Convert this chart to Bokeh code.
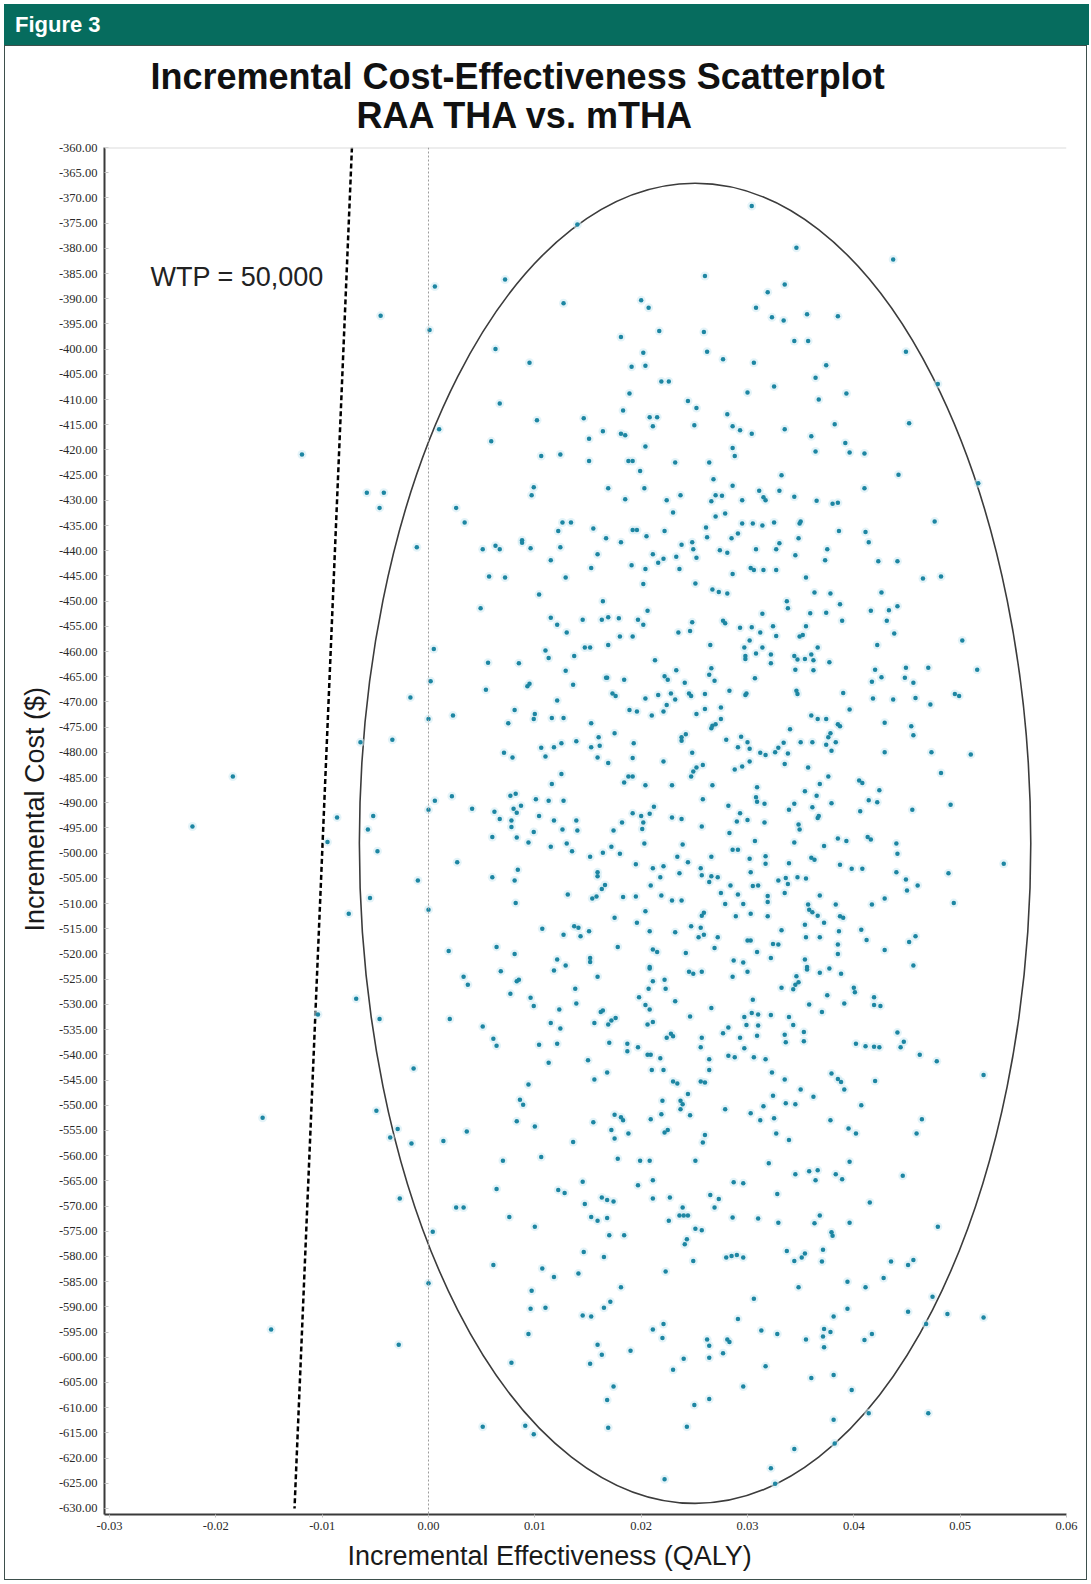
import math
from bokeh.plotting import figure
from bokeh.layouts import column
from bokeh.models import Range1d, FixedTicker, NumeralTickFormatter, Label, Span, Title, Div
from bokeh.embed import file_html
from bokeh.resources import INLINE

# ---------------- data ----------------
x_ticks = [-0.03, -0.02, -0.01, 0.0, 0.01, 0.02, 0.03, 0.04, 0.05, 0.06]
y_ticks = list(range(-630, -355, 5))

wtp = 50000
wtp_cost_ends = [-360, -630]

ellipse_center = (0.02507, -498.05)
ellipse_size = (0.06314, 261.9)

qaly_a = [0.0304, 0.0140, 0.0346, 0.0437, 0.0260, 0.0072, 0.0006, 0.0335, 0.0319, -0.0045,
          0.0127, 0.0200, 0.0207, 0.0308, 0.0323, 0.0334, 0.0356, 0.0385, 0.0001, 0.0217,
          0.0259, 0.0181, 0.0063, 0.0344, 0.0357, 0.0202, 0.0262, 0.0449, 0.0095, 0.0277,
          0.0306, 0.0191, 0.0204, 0.0374]
cost_a = [-371.6, -375.3, -379.9, -382.2, -385.5, -386.2, -387.6, -387.2, -388.7, -393.4,
          -390.9, -390.3, -391.8, -391.8, -393.7, -394.3, -393.1, -393.5, -396.2, -396.4,
          -396.6, -397.6, -400.0, -398.4, -398.4, -400.7, -400.5, -400.5, -402.7, -402.0,
          -402.7, -403.5, -403.3, -403.2]

qaly_b = [0.0219, 0.0226, 0.0364, 0.0479, 0.0325, 0.0300, 0.0189, 0.0393, 0.0367, 0.0067,
          0.0244, 0.0252, 0.0183, 0.0102, 0.0146, 0.0208, 0.0215, 0.0281, 0.0452, 0.0010,
          0.0211, 0.0250, 0.0286, 0.0293, 0.0304, 0.0335, 0.0382, 0.0164, 0.0181, 0.0185,
          0.0151, 0.0360, 0.0059, 0.0204, 0.0286, 0.0392, -0.0119, 0.0106, 0.0124, 0.0288,
          0.0364, 0.0396, 0.0410, 0.0151, 0.0188, 0.0192, 0.0232, 0.0264, 0.0199, 0.0332,
          0.0442, 0.0268, 0.0517, 0.0099, 0.0097, 0.0169, 0.0203, 0.0286, 0.0410, -0.0058,
          -0.0042, 0.0185, 0.0224, 0.0237, 0.0266, 0.0270, 0.0276, 0.0295, 0.0311, 0.0315,
          0.0317, 0.0330, 0.0344, 0.0365, 0.0380, 0.0385, -0.0046, 0.0026, 0.0230, 0.0270,
          0.0279, 0.0034, 0.0126, 0.0134, 0.0295, 0.0305, 0.0314, 0.0325, 0.0350, 0.0476,
          0.0155, 0.0122, 0.0192, 0.0196, 0.0222, 0.0261, 0.0349, 0.0386, 0.0411, 0.0088,
          0.0088, 0.0167, 0.0181, 0.0205, 0.0262, 0.0285, 0.0291, 0.0348, 0.0414, -0.0011,
          0.0051, 0.0063, 0.0067, 0.0096, 0.0124, 0.0238, 0.0248, 0.0249, 0.0274, 0.0281,
          0.0308, 0.0327, 0.0330, 0.0375, 0.0115, 0.0159, 0.0211, 0.0221, 0.0216, 0.0233,
          0.0252, 0.0345, 0.0373, 0.0423, 0.0441, 0.0153, 0.0191, 0.0204, 0.0236, 0.0303,
          0.0306, 0.0315, 0.0327, 0.0057, 0.0072, 0.0129, 0.0286, 0.0355, 0.0465, 0.0482,
          0.0202, 0.0251, 0.0104, 0.0267, 0.0273, 0.0281, 0.0363, 0.0378, 0.0426]
cost_b = [-406.4, -406.4, -405.7, -406.9, -407.4, -408.6, -408.8, -408.8, -410.0, -410.8,
          -410.3, -411.7, -412.2, -414.1, -413.7, -413.5, -413.5, -412.9, -414.7, -415.9,
          -415.3, -415.1, -415.3, -416.1, -416.8, -415.9, -414.9, -416.3, -416.8, -417.1,
          -417.8, -417.3, -418.3, -419.3, -419.6, -418.6, -420.9, -421.2, -420.9, -421.2,
          -420.3, -420.5, -420.7, -422.2, -422.2, -422.2, -422.5, -422.5, -424.2, -425.0,
          -424.9, -425.8, -426.6, -427.4, -429.0, -427.6, -427.6, -427.1, -427.6, -428.5,
          -428.5, -429.8, -430.0, -429.0, -430.2, -429.0, -429.1, -430.0, -428.1, -429.4,
          -430.0, -428.1, -429.3, -430.1, -430.7, -430.5, -431.5, -431.5, -432.4, -433.2,
          -432.6, -434.4, -434.4, -434.4, -434.6, -434.6, -435.0, -434.4, -434.2, -434.2,
          -435.6, -436.1, -435.9, -435.9, -436.1, -435.4, -434.6, -436.1, -436.3, -437.9,
          -438.4, -437.5, -438.3, -437.1, -437.3, -437.5, -436.6, -437.5, -438.3, -439.3,
          -439.7, -439.0, -439.7, -439.5, -439.3, -438.8, -438.3, -439.7, -439.9, -440.4,
          -439.7, -439.7, -438.5, -439.7, -441.9, -440.7, -440.7, -441.6, -442.4, -441.2,
          -441.4, -440.9, -441.9, -442.1, -442.1, -443.4, -442.9, -443.6, -443.6, -443.4,
          -443.8, -443.8, -443.8, -445.1, -445.3, -445.3, -444.6, -445.3, -445.5, -445.1,
          -446.6, -446.5, -448.7, -447.7, -448.2, -448.5, -448.3, -448.5, -448.3]

qaly_c = [0.0164, 0.0337, 0.0387, 0.0049, 0.0338, 0.0416, 0.0433, 0.0441, 0.0359, 0.0374,
          0.0314, 0.0115, 0.0145, 0.0163, 0.0169, 0.0179, 0.0197, 0.0206, 0.0248, 0.0277,
          0.0279, 0.0389, 0.0431, 0.0121, 0.0130, 0.0202, 0.0246, 0.0235, 0.0293, 0.0304,
          0.0324, 0.0355, 0.0312, 0.0327, 0.0349, 0.0352, 0.0438, 0.0180, 0.0192, 0.0005,
          0.0110, 0.0147, 0.0152, 0.0169, 0.0265, 0.0297, 0.0302, 0.0314, 0.0366, 0.0422,
          0.0502, 0.0113, 0.0137, 0.0298, 0.0308, 0.0322, 0.0344, 0.0347, 0.0354, 0.0362,
          0.0360, 0.0056, 0.0085, 0.0213, 0.0298, 0.0322, 0.0377, 0.0129, 0.0167, 0.0168,
          0.0184, 0.0222, 0.0225, 0.0233, 0.0266, 0.0264, 0.0269, 0.0307, 0.0345, 0.0362,
          0.0420, 0.0426, 0.0417, 0.0449, 0.0448, 0.0456, 0.0470, 0.0516, 0.0002, 0.0054,
          0.0093, 0.0095, 0.0136, 0.0241, -0.0017, 0.0121, 0.0173, 0.0176, 0.0204, 0.0216,
          0.0228, 0.0232, 0.0245, 0.0247, 0.0260, 0.0283, 0.0298, 0.0299, 0.0346, 0.0347,
          0.0390, 0.0418, 0.0437, 0.0458, 0.0472, 0.0495, 0.0499, 0.0081, 0.0224, 0.0189,
          0.0196, 0.0210, 0.0221, 0.0252, 0.0260, 0.0275, 0.0396, 0.0000, 0.0023, 0.0075,
          0.0100, 0.0099, 0.0116, 0.0127, 0.0153, 0.0275, 0.0267, 0.0270, 0.0360, 0.0366,
          0.0374, 0.0385, 0.0387, 0.0429, 0.0454, 0.0456, 0.0266, 0.0340, 0.0378, 0.0175,
          0.0160, 0.0238, 0.0242, 0.0280, 0.0294, 0.0300, 0.0376, -0.0064, -0.0034, 0.0106,
          0.0118, 0.0125, 0.0139, 0.0153, 0.0161, 0.0193, 0.0238, 0.0291, 0.0302, 0.0334,
          0.0350, 0.0361, 0.0374, 0.0383, 0.0379, 0.0329, 0.0326, 0.0312, 0.0317, 0.0338,
          0.0071, 0.0079, 0.0110, 0.0159, 0.0192, 0.0248, 0.0429, 0.0473, 0.0510, 0.0169,
          0.0221, 0.0258, 0.0252, 0.0302, 0.0295, 0.0288, 0.0335, 0.0357, 0.0125, 0.0249,
          0.0247, 0.0482, 0.0116, 0.0184, 0.0188, 0.0192, 0.0204, 0.0229, 0.0267, 0.0309,
          0.0368, 0.0376, 0.0405, 0.0408, 0.0424, 0.0022, 0.0006, 0.0077, 0.0082, 0.0101,
          0.0113, 0.0127, 0.0258, 0.0308, 0.0309, 0.0354, 0.0365, 0.0344, 0.0361, 0.0379,
          0.0414, 0.0422, 0.0491, 0.0041, 0.0000, 0.0062, 0.0080, 0.0087, 0.0083, 0.0104,
          0.0192, 0.0200, 0.0212, 0.0208, 0.0282, 0.0293, 0.0316, 0.0339, 0.0366, 0.0406,
          0.0455, -0.0086, -0.0052, 0.0067, 0.0078, 0.0118, 0.0139, 0.0182, 0.0202, 0.0229,
          0.0238, 0.0290, 0.0300, 0.0316, 0.0348, 0.0367]
cost_c = [-450.0, -450.0, -450.6, -451.4, -451.4, -451.9, -451.8, -451.0, -452.4, -452.3,
          -452.5, -453.3, -453.7, -453.7, -453.2, -453.4, -453.7, -451.9, -454.2, -453.9,
          -454.4, -453.9, -453.9, -454.7, -456.2, -454.7, -455.9, -456.2, -455.3, -455.2,
          -455.0, -455.0, -456.2, -456.9, -457.0, -456.7, -456.4, -457.0, -457.0, -459.5,
          -459.8, -459.2, -459.2, -458.7, -458.7, -459.2, -457.8, -459.2, -459.2, -458.7,
          -457.8, -461.3, -460.9, -460.9, -460.4, -460.6, -460.9, -461.6, -461.5, -461.7,
          -460.6, -462.2, -462.3, -461.7, -461.5, -462.3, -462.1, -463.8, -465.2, -465.2,
          -465.6, -464.9, -465.6, -463.7, -463.3, -464.6, -465.8, -465.3, -463.6, -463.7,
          -463.6, -465.1, -466.0, -463.2, -465.2, -466.2, -463.2, -463.6, -465.9, -467.6,
          -466.9, -466.4, -466.6, -466.2, -469.1, -469.7, -468.3, -468.8, -469.3, -468.6,
          -468.3, -469.5, -468.3, -468.8, -468.4, -467.8, -468.6, -468.3, -467.8, -468.4,
          -468.2, -469.3, -469.5, -469.2, -470.5, -468.4, -468.8, -471.6, -470.6, -471.6,
          -471.9, -472.7, -471.9, -472.4, -471.4, -471.1, -471.5, -473.4, -472.7, -474.2,
          -472.4, -473.4, -473.2, -473.2, -474.2, -473.4, -474.7, -474.4, -472.7, -473.4,
          -473.4, -474.4, -474.8, -474.1, -474.8, -476.6, -475.2, -475.4, -476.2, -476.2,
          -477.0, -477.0, -476.4, -477.5, -476.9, -478.0, -477.0, -478.0, -477.5, -479.1,
          -479.0, -478.2, -477.8, -479.0, -478.7, -478.2, -477.7, -479.0, -479.3, -478.1,
          -478.0, -478.0, -478.5, -478.0, -479.7, -479.1, -480.0, -480.1, -480.5, -480.2,
          -480.1, -481.0, -480.8, -481.0, -481.1, -480.1, -480.0, -480.0, -480.4, -482.1,
          -481.8, -482.5, -483.0, -481.8, -482.8, -483.4, -482.3, -483.0, -484.3, -483.8,
          -484.8, -484.1, -486.3, -486.0, -484.8, -484.8, -486.5, -486.5, -486.5, -486.9,
          -486.3, -484.8, -485.6, -486.1, -487.5, -488.7, -489.6, -488.6, -488.2, -489.3,
          -489.6, -489.6, -489.3, -488.9, -489.8, -487.7, -488.6, -490.2, -490.9, -490.1,
          -489.5, -489.9, -490.4, -491.2, -491.4, -491.8, -491.2, -490.6, -492.0, -492.6,
          -492.1, -492.6, -490.8, -492.2, -490.6, -492.1, -490.2, -491.4, -493.0, -491.7,
          -491.4, -492.9, -492.6, -493.2, -493.5, -493.5, -493.5, -493.9, -493.9, -492.9,
          -493.2, -493.7, -493.4, -493.9, -494.3, -492.6]

qaly_d = [-0.0057, -0.0095, -0.0048, 0.0078, 0.0099, 0.0126, 0.0140, 0.0174, 0.0201, 0.0257,
          0.0283, 0.0349, 0.0060, 0.0083, 0.0094, 0.0115, 0.0130, 0.0135, 0.0152, 0.0164,
          0.0172, 0.0180, 0.0203, 0.0239, 0.0307, 0.0344, 0.0372, 0.0385, 0.0393, 0.0413,
          0.0416, 0.0440, 0.0441, 0.0286, 0.0291, 0.0266, 0.0234, 0.0244, 0.0302, 0.0317,
          0.0317, 0.0339, 0.0360, 0.0363, 0.0027, 0.0541, -0.0010, 0.0060, 0.0081, 0.0084,
          0.0159, 0.0159, 0.0195, 0.0211, 0.0221, 0.0218, 0.0236, 0.0256, 0.0257, 0.0266,
          0.0272, 0.0264, 0.0303, 0.0329, 0.0336, 0.0338, 0.0347, 0.0355, 0.0387, 0.0398,
          0.0408, 0.0440, 0.0449, 0.0460, 0.0450, 0.0489, -0.0055, 0.0131, 0.0154, 0.0158,
          0.0163, 0.0166, 0.0183, 0.0195, 0.0209, 0.0219, 0.0229, 0.0238, 0.0275, 0.0284,
          0.0291, 0.0305, 0.0310, 0.0335, 0.0319, 0.0368, 0.0429, -0.0075, 0.0000, 0.0082,
          0.0204, 0.0257, 0.0259, 0.0279, 0.0296, 0.0289, 0.0303, 0.0319, 0.0319, 0.0357,
          0.0358, 0.0361, 0.0366, 0.0383, 0.0387, 0.0390, 0.0417, 0.0494, 0.0175, 0.0196,
          0.0354, 0.0372, 0.0107, 0.0137, 0.0141, 0.0151, 0.0127, 0.0143, 0.0208, 0.0232,
          0.0247, 0.0256, 0.0254, 0.0259, 0.0272, 0.0332, 0.0355, 0.0368, 0.0386, 0.0407,
          0.0412, 0.0458, 0.0452, 0.0019, 0.0064, 0.0081, 0.0178, 0.0211, 0.0215, 0.0242,
          0.0269, 0.0300, 0.0303, 0.0324, 0.0329, 0.0385, 0.0385, 0.0429, 0.0309, 0.0322,
          0.0121, 0.0129, 0.0118, 0.0152, 0.0152, 0.0068, 0.0208, 0.0208, 0.0245, 0.0249,
          0.0257, 0.0287, 0.0296, 0.0300, 0.0354, 0.0356, 0.0356, 0.0368, 0.0377, 0.0388,
          0.0456, 0.0033, 0.0037, 0.0083, 0.0085, 0.0159, 0.0211, 0.0222, 0.0286, 0.0346,
          0.0348, 0.0345, -0.0068, 0.0077, 0.0096, 0.0099, 0.0138, 0.0139, 0.0207, 0.0223,
          0.0198, 0.0204, 0.0232, 0.0332, 0.0343, 0.0375, 0.0400, 0.0401, 0.0419, 0.0419,
          0.0425, 0.0391, 0.0358, 0.0305, 0.0304, 0.0266, 0.0208, 0.0123, 0.0162, 0.0164,
          0.0370, -0.0104, -0.0046, 0.0020, 0.0051, 0.0115, 0.0124, 0.0156, 0.0169, 0.0172,
          0.0176, 0.0206, 0.0211, 0.0246, 0.0297, 0.0310, 0.0322, 0.0339, 0.0299, 0.0310,
          0.0343, 0.0061, 0.0064, 0.0104, 0.0121, 0.0170, 0.0187, 0.0197, 0.0224, 0.0228,
          0.0230, 0.0257, 0.0256, 0.0277, 0.0282, 0.0293, 0.0297, 0.0309, 0.0335, 0.0336,
          0.0353, 0.0353, 0.0402, 0.0411, 0.0419, 0.0424, 0.0441, 0.0447, 0.0444]
cost_d = [-495.3, -497.8, -499.6, -494.8, -495.8, -495.3, -495.5, -495.5, -495.2, -494.7,
          -496.0, -495.3, -496.8, -496.9, -497.9, -498.7, -498.1, -499.6, -500.7, -499.9,
          -498.7, -500.1, -498.1, -498.3, -497.6, -497.9, -498.6, -497.1, -497.6, -496.8,
          -497.3, -498.1, -500.1, -499.3, -499.3, -500.7, -500.7, -501.8, -501.1, -500.6,
          -502.1, -502.0, -500.9, -501.3, -501.8, -502.1, -505.4, -504.8, -505.4, -503.3,
          -503.8, -504.6, -502.2, -503.0, -502.6, -504.8, -504.0, -503.0, -504.4, -504.6,
          -504.8, -505.7, -503.8, -505.4, -504.9, -506.1, -504.8, -505.0, -502.3, -503.1,
          -503.1, -503.8, -505.2, -506.4, -507.4, -504.0, -508.9, -508.2, -509.0, -508.6,
          -507.1, -506.3, -508.7, -508.6, -506.4, -508.4, -509.4, -509.4, -507.9, -506.4,
          -508.2, -506.5, -506.4, -507.9, -508.5, -508.4, -509.0, -512.0, -511.2, -509.9,
          -511.5, -512.4, -511.8, -510.1, -510.1, -512.5, -512.0, -509.7, -512.5, -510.2,
          -511.2, -511.7, -512.4, -510.2, -512.5, -512.8, -510.2, -509.9, -512.8, -513.8,
          -514.2, -513.8, -515.0, -514.5, -514.8, -515.5, -516.2, -516.5, -515.5, -515.7,
          -514.5, -514.8, -516.7, -516.2, -516.7, -515.3, -516.7, -516.7, -515.5, -515.2,
          -517.2, -516.5, -517.6, -519.4, -518.6, -520.0, -518.6, -519.1, -519.6, -519.8,
          -518.8, -517.3, -517.3, -518.0, -518.1, -518.1, -520.0, -519.2, -519.6, -520.8,
          -521.1, -522.3, -523.3, -520.8, -521.6, -523.4, -522.6, -522.9, -523.5, -523.9,
          -523.5, -521.3, -521.7, -523.5, -521.1, -522.6, -523.1, -523.7, -522.9, -523.9,
          -522.3, -524.5, -526.1, -525.4, -525.1, -524.5, -525.4, -525.1, -524.5, -524.4,
          -525.6, -526.1, -528.9, -527.9, -528.7, -530.3, -526.9, -529.8, -526.9, -526.9,
          -528.6, -530.1, -529.4, -526.7, -527.0, -528.2, -526.7, -527.6, -528.6, -530.1,
          -530.3, -529.8, -530.0, -529.1, -531.7, -530.7, -531.0, -531.0, -531.5, -531.2,
          -531.5, -532.0, -532.9, -532.9, -534.4, -533.7, -534.8, -533.7, -534.0, -533.2,
          -532.7, -534.0, -533.5, -532.4, -532.5, -532.0, -532.1, -532.5, -534.1, -534.2,
          -534.1, -536.8, -538.2, -538.0, -537.8, -537.6, -537.8, -538.5, -536.6, -535.8,
          -536.3, -536.6, -538.5, -535.7, -534.6, -536.6, -538.7, -536.2, -536.0, -537.5,
          -535.5, -537.3, -537.8, -538.3, -538.4, -538.5, -535.6, -537.4, -538.5]

qaly_e = [0.0206, 0.0209, 0.0187, 0.0282, 0.0288, 0.0306, 0.0317, 0.0462, 0.0478, 0.0150,
          0.0113, 0.0218, 0.0264, -0.0014, 0.0156, 0.0168, 0.0210, 0.0221, 0.0264, 0.0323,
          0.0335, 0.0379, 0.0385, 0.0388, 0.0420, 0.0522, 0.0094, 0.0230, 0.0234, 0.0256,
          0.0260, 0.0350, 0.0391, 0.0244, 0.0362, 0.0324, 0.0086, 0.0089, 0.0220, 0.0237,
          0.0239, 0.0237, 0.0336, 0.0345, 0.0315, 0.0407, -0.0049, 0.0279, 0.0303, 0.0175,
          0.0181, 0.0183, 0.0219, 0.0246, 0.0325, 0.0083, 0.0155, 0.0209, 0.0312, 0.0378,
          0.0464, -0.0029, -0.0036, -0.0016, 0.0014, 0.0036, 0.0100, 0.0172, 0.0188, 0.0175,
          0.0222, 0.0225, 0.0258, 0.0260, 0.0327, 0.0339, 0.0395, 0.0402, 0.0459, 0.0136,
          0.0070, 0.0106, 0.0178, 0.0199, 0.0208, 0.0251, 0.0320, 0.0396, 0.0345, 0.0358,
          0.0366, 0.0364, 0.0383, 0.0389, 0.0446, 0.0145, 0.0197, 0.0211, 0.0287, 0.0296,
          -0.0027, 0.0064, 0.0122, 0.0128, 0.0147, 0.0163, 0.0168, 0.0174, 0.0211, 0.0227,
          0.0265, 0.0273, 0.0269, 0.0328, 0.0415, 0.0026, 0.0033, 0.0239, 0.0076, 0.0153,
          0.0159, 0.0168, 0.0236, 0.0240, 0.0244, 0.0226, 0.0286, 0.0310, 0.0329, 0.0363,
          0.0368, 0.0396, 0.0479, 0.0004, 0.0100, 0.0251, 0.0257, 0.0170, 0.0184, 0.0379,
          0.0380, 0.0243, 0.0241, 0.0337, 0.0354, 0.0351, 0.0344, 0.0371, 0.0370, 0.0146,
          0.0165, 0.0249, 0.0280, 0.0285, 0.0290, 0.0296, 0.0435, 0.0451, 0.0456, 0.0061,
          0.0107, 0.0141, 0.0223]
cost_e = [-540.0, -540.0, -539.3, -540.2, -540.5, -540.5, -540.9, -540.0, -541.3, -541.1,
          -541.6, -540.7, -540.9, -542.7, -544.9, -543.5, -543.0, -543.0, -543.0, -543.5,
          -544.9, -543.7, -544.8, -545.4, -545.2, -544.0, -545.9, -545.3, -545.7, -545.3,
          -545.5, -546.9, -546.9, -547.8, -548.3, -548.1, -548.9, -549.9, -549.1, -549.1,
          -549.8, -550.8, -549.6, -549.8, -550.2, -550.0, -551.1, -550.8, -551.6, -551.9,
          -552.4, -553.0, -551.8, -552.0, -552.6, -553.2, -553.4, -552.8, -553.0, -553.0,
          -552.8, -554.7, -556.4, -557.6, -557.1, -555.2, -554.2, -554.9, -555.6, -556.6,
          -555.4, -554.9, -557.4, -555.9, -555.6, -556.9, -554.6, -555.6, -555.6, -557.3,
          -561.0, -560.3, -560.6, -561.0, -561.0, -561.0, -561.5, -561.2, -563.7, -563.1,
          -562.9, -564.9, -563.7, -564.7, -564.0, -565.2, -565.9, -564.9, -565.3, -565.5,
          -568.5, -566.6, -566.8, -567.4, -569.6, -568.3, -568.8, -569.1, -568.5, -568.3,
          -567.8, -568.6, -570.3, -567.6, -569.3, -570.3, -570.3, -570.3, -572.2, -572.2,
          -572.9, -572.4, -571.9, -571.9, -571.9, -572.9, -572.3, -572.5, -573.3, -573.4,
          -571.9, -573.3, -574.1, -575.1, -574.1, -574.5, -574.8, -575.8, -575.8, -575.2,
          -575.9, -576.6, -577.6, -578.9, -579.4, -580.2, -580.9, -578.7, -581.0, -579.1,
          -580.1, -580.9, -580.2, -579.9, -579.7, -580.2, -581.0, -581.7, -580.7, -581.7,
          -582.4, -583.4, -583.0]

qaly_f = [0.0000, 0.0118, 0.0428, 0.0394, 0.0097, 0.0181, 0.0348, 0.0411, 0.0474, 0.0306,
          0.0171, 0.0165, 0.0096, 0.0110, 0.0145, 0.0153, 0.0291, 0.0394, 0.0381, 0.0451,
          0.0488, 0.0522, 0.0468, 0.0221, 0.0211, 0.0220, 0.0094, 0.0313, 0.0328, 0.0372,
          0.0378, 0.0371, 0.0355, 0.0410, 0.0417, -0.0028, 0.0159, 0.0262, 0.0264, 0.0281,
          0.0283, 0.0372, 0.0163, 0.0190, 0.0240, 0.0264, 0.0277, 0.0078, 0.0152, 0.0230,
          0.0317, 0.0360, 0.0381, 0.0174, 0.0296, 0.0398, 0.0168, 0.0264, 0.0250, 0.0414,
          0.0470, 0.0381, 0.0051, 0.0091, 0.0099, 0.0169, 0.0243, 0.0382, 0.0344, 0.0322,
          0.0222, 0.0326]
cost_f = [-585.3, -584.1, -584.3, -585.0, -586.8, -586.1, -586.1, -586.1, -588.0, -588.4,
          -589.0, -590.2, -590.4, -590.2, -591.7, -591.9, -592.4, -590.4, -591.9, -591.0,
          -591.4, -592.1, -593.4, -593.4, -594.5, -596.2, -595.4, -594.7, -595.4, -594.4,
          -595.0, -595.9, -596.5, -596.6, -595.4, -597.5, -597.5, -596.5, -597.7, -596.5,
          -597.0, -598.0, -599.5, -598.7, -600.3, -600.1, -599.2, -601.1, -601.3, -602.5,
          -601.8, -604.1, -603.5, -605.8, -605.8, -606.5, -608.5, -608.3, -609.5, -611.1,
          -611.1, -612.4, -613.8, -613.6, -615.3, -614.0, -613.8, -617.1, -618.2, -622.0,
          -624.2, -625.1]

qaly_g = [-0.0184, -0.0222, -0.0156, -0.0148]
cost_g = [-484.8, -494.7, -552.5, -594.5]

title_lines = ["Incremental Cost-Effectiveness Scatterplot", "RAA THA vs. mTHA"]

# ---------------- assemble ----------------
qaly_all, cost_all = [], []
for qs, cs in [(qaly_a, cost_a), (qaly_b, cost_b), (qaly_c, cost_c), (qaly_d, cost_d),
               (qaly_e, cost_e), (qaly_f, cost_f), (qaly_g, cost_g)]:
    n = min(len(qs), len(cs))
    qaly_all.extend(qs[:n])
    cost_all.extend(cs[:n])

# ---------------- layout ----------------
W = 1083
HEAD_H = 41
MAIN_H = 1535
ML, MR, MT, MB = 99, 22, 101, 67
x_lo, x_hi = -0.03047, 0.06
y_lo, y_hi = -631.2, -360.0
TEAL = "#066c5e"
FONT = "Liberation Sans"

head = Div(text=('<div style="font-family: \'Liberation Sans\', Arial, sans-serif; '
                 'font-weight: bold; font-size: 22px; color: #ffffff; '
                 'line-height: 41px; padding-left: 11px;">Figure 3</div>'),
           width=W + 2, height=HEAD_H,
           styles={"background-color": TEAL, "margin": "0", "padding": "0"})

# second title line is indented with no-break spaces so that it sits centred under the first
title_text = title_lines[0] + "\n" + "\u00a0" * 20 + "\u2006" + title_lines[1]

p = figure(width=W, height=MAIN_H, x_range=Range1d(x_lo, x_hi), y_range=Range1d(y_lo, y_hi),
           toolbar_location=None, output_backend="svg", title=title_text,
           min_border_left=ML, min_border_right=MR, min_border_top=MT, min_border_bottom=MB,
           outline_line_color=None, background_fill_color="white", border_fill_color="white")
p.grid.visible = False
p.styles = {"border": "1px solid #3d4f4c"}

fw = W - ML - MR
fh = MAIN_H - MT - MB


def dx(px):
    return x_lo + (px - ML) / fw * (x_hi - x_lo)


def dy(py):
    return y_hi - (py - MT) / fh * (y_hi - y_lo)


p.title.text_font = FONT
p.title.text_font_style = "bold"
p.title.text_font_size = "36px"
p.title.text_color = "#111111"
p.title.text_line_height = 0.97
p.title.align = "left"
p.title.vertical_align = "top"
p.title.offset = 46
p.title.standoff = 18

# axes
p.yaxis.ticker = FixedTicker(ticks=y_ticks)
p.yaxis.formatter = NumeralTickFormatter(format="0.00")
p.xaxis.ticker = FixedTicker(ticks=x_ticks)
p.xaxis.formatter = NumeralTickFormatter(format="0.00")
for ax in (p.xaxis, p.yaxis):
    ax.axis_line_color = "#3a3a3a"
    ax.axis_line_width = 2
    ax.minor_tick_line_color = None
    ax.major_tick_line_color = "#c4c4c4"
    ax.major_label_text_font = "Liberation Serif"
    ax.major_label_text_font_size = "12.5px"
    ax.major_label_text_color = "#2a2a2a"
p.yaxis.major_tick_in = 4
p.yaxis.major_tick_out = 0
p.yaxis.major_label_standoff = 7
p.xaxis.major_tick_in = 0
p.xaxis.major_tick_out = 3
p.xaxis.major_label_standoff = 4

# axis titles placed as side titles so they can be positioned like the original
p.add_layout(Title(text="Incremental Effectiveness (QALY)", text_font=FONT,
                   text_font_style="normal", text_font_size="27px", text_color="#1a1a1a",
                   align="left", offset=243, standoff=13), "below")
p.add_layout(Title(text="Incremental Cost ($)", text_font=FONT,
                   text_font_style="normal", text_font_size="27px", text_color="#1a1a1a",
                   align="left", offset=583, standoff=12), "left")

# reference lines
p.add_layout(Span(location=-360, dimension="width", line_color="#dcdcdc", line_width=2))
p.add_layout(Span(location=0, dimension="height", line_color="#9c9c9c", line_width=1,
                  line_dash="2 2"))
p.line([c / wtp for c in wtp_cost_ends], wtp_cost_ends, line_color="black", line_width=2.5,
       line_dash="5 3")

# ellipse
p.ellipse(x=[ellipse_center[0]], y=[ellipse_center[1]], width=[ellipse_size[0]],
          height=[ellipse_size[1]], fill_color=None, line_color="#3c3c3c", line_width=1.6)

# points
p.scatter(qaly_all, cost_all, size=9, fill_color="#cdeaf3", fill_alpha=0.55, line_color=None)
p.scatter(qaly_all, cost_all, size=4.5, fill_color="#1d86a2", line_color=None)

# WTP text (inside plot area)
p.add_layout(Label(x=dx(145), y=dy(230), text="WTP = 50,000", text_align="left",
                   text_baseline="middle", text_font=FONT, text_font_size="27px",
                   text_color="#222222"))

layout = column(head, p, margin=(4, 0, 0, 4))
open("out.html", "w").write(file_html(layout, INLINE))
